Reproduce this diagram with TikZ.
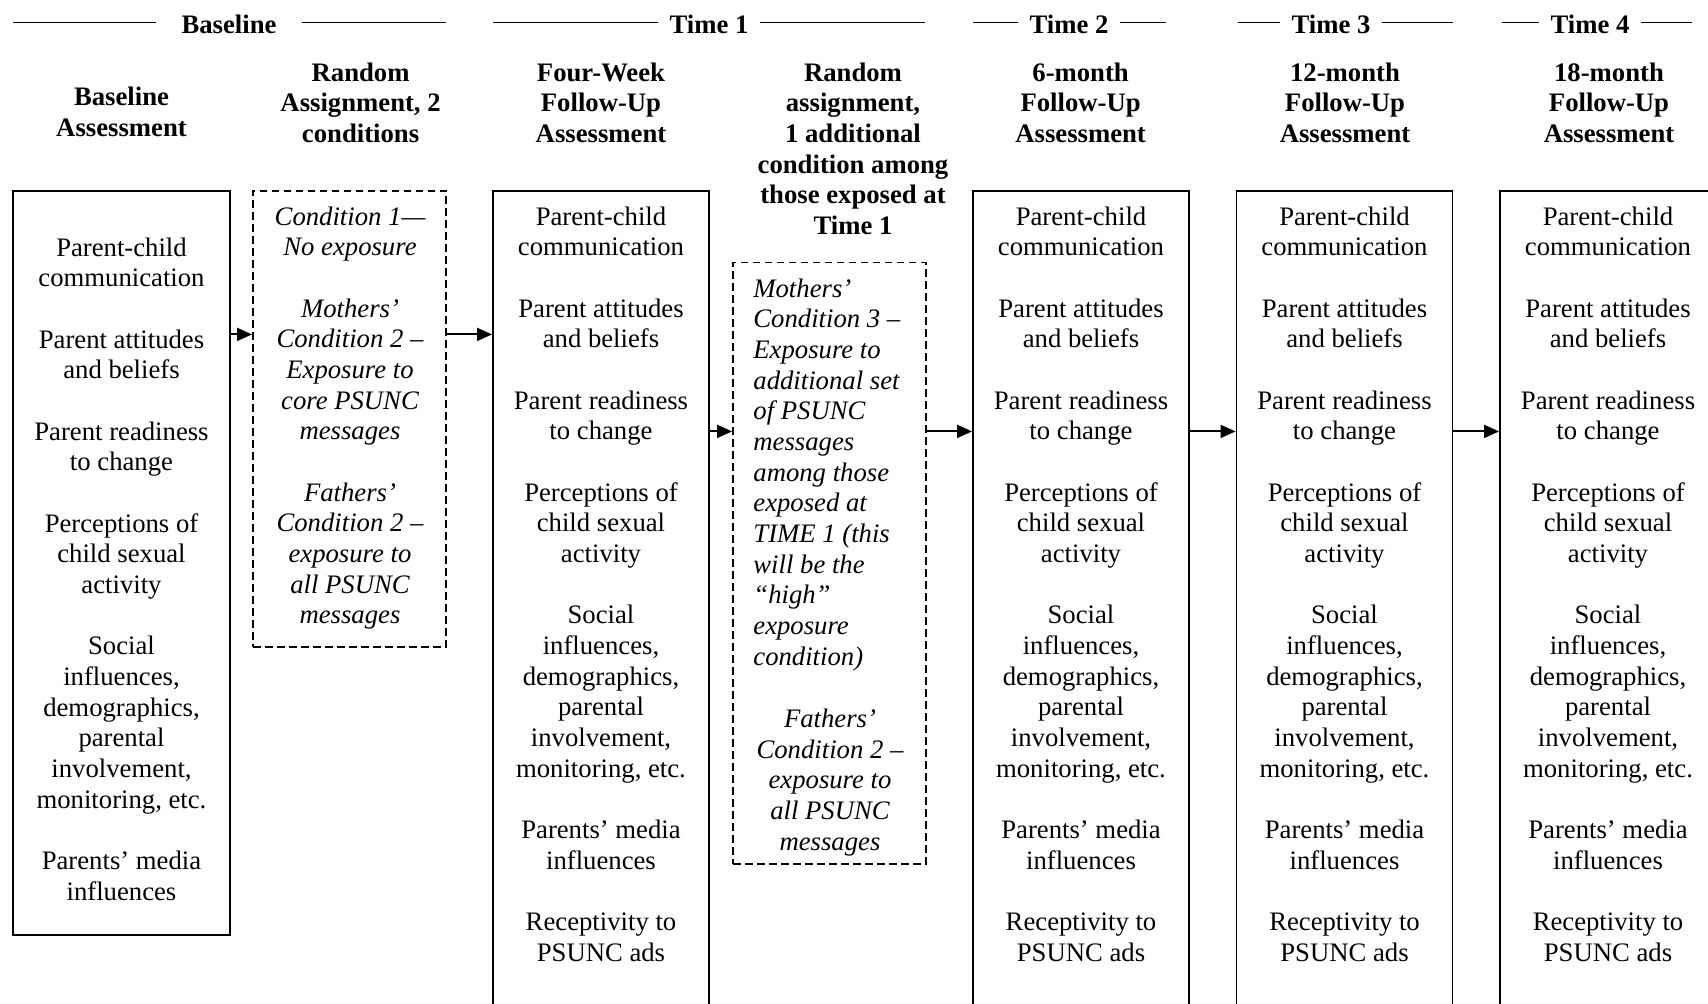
\documentclass[tikz,border=0pt]{standalone}
\usepackage{fontspec}
\setmainfont{Liberation Serif}
\usetikzlibrary{arrows.meta}
\newcommand\mycolc[1]{\begin{tabular}[t]{@{}c@{}}#1\end{tabular}}
\newcommand\mycoll[1]{\begin{tabular}[t]{@{}l@{}}#1\end{tabular}}
\begin{document}
\begin{tikzpicture}[x=0.5pt,y=-0.5pt,
  font=\fontsize{13.35pt}{15.34pt}\selectfont,
  sbox/.style={draw, line width=0.95pt, inner sep=0pt},
  dbox/.style={draw, line width=0.95pt, inner sep=0pt, dash pattern=on 3.8pt off 2.2pt},
  tbox/.style={sbox, minimum width=108pt, minimum height=424.7pt},
  txt/.style={anchor=base, inner sep=0pt},
  hdr/.style={anchor=base, inner ysep=0pt, inner xsep=5.5pt, font=\fontsize{13.35pt}{15.34pt}\selectfont\bfseries},
  colhdr/.style={anchor=base, inner sep=0pt, font=\fontsize{13.35pt}{15.34pt}\selectfont\bfseries},
  arr/.style={line width=0.95pt, -{Triangle[length=7.5pt,width=6.5pt]}},
  hline/.style={line width=0.9pt}]
\useasboundingbox (0,0) rectangle (1708,1003);
\fill[white] (0,0) rectangle (1708,1003);

% ---- header rules ----
\coordinate (hy) at (0,22.5);
\node[hdr, inner xsep=12.5pt] (hb) at (229,33) {Baseline};
\coordinate (hbL) at (13,22.5); \coordinate (hbR) at (446,22.5);
\draw[hline] (hbL) -- (hb.west |- hy);
\draw[hline] (hb.east |- hy) -- (hbR);

\node[hdr] (h1) at (709,33) {Time 1};
\coordinate (h1L) at (493,22.5); \coordinate (h1R) at (925,22.5);
\draw[hline] (h1L) -- (h1.west |- hy);
\draw[hline] (h1.east |- hy) -- (h1R);

\node[hdr] (h2) at (1069,33) {Time 2};
\coordinate (h2L) at (973,22.5); \coordinate (h2R) at (1166,22.5);
\draw[hline] (h2L) -- (h2.west |- hy);
\draw[hline] (h2.east |- hy) -- (h2R);

\node[hdr] (h3) at (1331,33) {Time 3};
\coordinate (h3L) at (1238,22.5); \coordinate (h3R) at (1453,22.5);
\draw[hline] (h3L) -- (h3.west |- hy);
\draw[hline] (h3.east |- hy) -- (h3R);

\node[hdr] (h4) at (1590,33) {Time 4};
\coordinate (h4L) at (1502,22.5); \coordinate (h4R) at (1692,22.5);
\draw[hline] (h4L) -- (h4.west |- hy);
\draw[hline] (h4.east |- hy) -- (h4R);

% ---- column headers ----
\node[colhdr] (ch0) at (121.5,105.5) {\mycolc{Baseline\\Assessment}};
\node[colhdr] (ch1) at (360.6,81) {\mycolc{Random\\Assignment, 2\\conditions}};
\node[colhdr] (ch2) at (601,81) {\mycolc{Four-Week\\Follow-Up\\Assessment}};
\node[colhdr] (ch3) at (853,81) {\mycolc{Random\\assignment,\\1 additional\\condition among\\those exposed at\\Time 1}};
\node[colhdr] (ch4) at (1080.6,81) {\mycolc{6-month\\Follow-Up\\Assessment}};
\node[colhdr] (ch5) at (1345,81) {\mycolc{12-month\\Follow-Up\\Assessment}};
\node[colhdr] (ch6) at (1609,81) {\mycolc{18-month\\Follow-Up\\Assessment}};

% ---- boxes ----
\node[sbox, minimum width=108.5pt, minimum height=372pt] (base) at (121.5,562.6) {};
\node[dbox, minimum width=96.5pt, minimum height=228.2pt] (c1) at (349.5,418.8) {};
\node[tbox] (t1) at (601,615.3) {};
\node[dbox, minimum width=96.5pt, minimum height=300.65pt] (c3) at (829.5,563.15) {};
\node[tbox] (t2) at (1081,615.3) {};
\node[tbox] (t3) at (1344.5,615.3) {};
\node[tbox] (t4) at (1608,615.3) {};

% ---- box texts ----
\node[txt] (base-txt) at (121.5,256) {\mycolc{Parent-child\\communication\\ \\Parent attitudes\\and beliefs\\ \\Parent readiness\\to change\\ \\Perceptions of\\child sexual\\activity\\ \\Social\\influences,\\demographics,\\parental\\involvement,\\monitoring, etc.\\ \\Parents’ media\\influences}};

\node[txt, font=\fontsize{13.35pt}{15.34pt}\selectfont\itshape] (c1-txt) at (350,225) {\mycolc{Condition 1—\\No exposure\\ \\Mothers’\\Condition 2 –\\Exposure to\\core PSUNC\\messages\\ \\Fathers’\\Condition 2 –\\exposure to\\all PSUNC\\messages}};

\node[txt, anchor=base west, font=\fontsize{13.35pt}{15.34pt}\selectfont\itshape] (c3-txt) at (753,297) {\mycoll{Mothers’\\Condition 3 –\\Exposure to\\additional set\\of PSUNC\\messages\\among those\\exposed at\\TIME 1 (this\\will be the\\“high”\\exposure\\condition)}};
\node[txt, font=\fontsize{13.35pt}{15.34pt}\selectfont\itshape] (c3-txt2) at (830,727.5) {\mycolc{Fathers’\\Condition 2 –\\exposure to\\all PSUNC\\messages}};

\foreach \n/\xx in {t1/601, t2/1081, t3/1344.5, t4/1608}{
  \node[txt] (\n-txt) at (\xx,225) {\mycolc{Parent-child\\communication\\ \\Parent attitudes\\and beliefs\\ \\Parent readiness\\to change\\ \\Perceptions of\\child sexual\\activity\\ \\Social\\influences,\\demographics,\\parental\\involvement,\\monitoring, etc.\\ \\Parents’ media\\influences\\ \\Receptivity to\\PSUNC ads}};
}

% ---- arrows ----
\coordinate (ya) at (0,334.4);
\coordinate (yb) at (0,431.4);
\draw[arr] (base.east |- ya) -- (c1.west |- ya);
\draw[arr] (c1.east |- ya) -- (t1.west |- ya);
\draw[arr] (t1.east |- yb) -- (c3.west |- yb);
\draw[arr] (c3.east |- yb) -- (t2.west |- yb);
\draw[arr] (t2.east |- yb) -- (t3.west |- yb);
\draw[arr] (t3.east |- yb) -- (t4.west |- yb);
\end{tikzpicture}
\end{document}
